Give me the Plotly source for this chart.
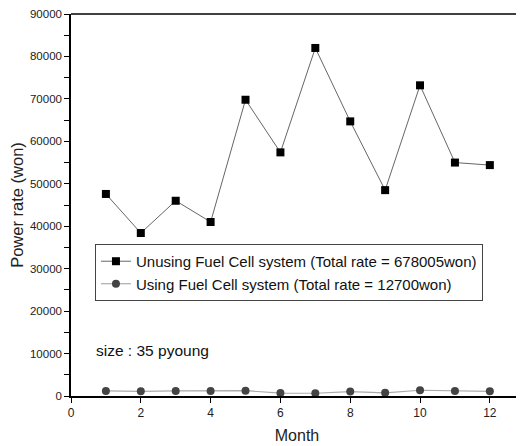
import plotly.graph_objects as go

months = [1, 2, 3, 4, 5, 6, 7, 8, 9, 10, 11, 12]
unusing = [47600, 38400, 46000, 41000, 69800, 57400, 82000, 64700, 48500, 73200, 55000, 54400]
using = [1200, 1100, 1200, 1150, 1250, 700, 650, 1050, 750, 1350, 1200, 1100]
name_unusing = "Unusing Fuel Cell system (Total rate = 678005won)"
name_using = "Using Fuel Cell system (Total rate = 12700won)"

font = "Liberation Sans, Arial, sans-serif"

fig = go.Figure()
fig.add_trace(go.Scatter(
    x=months, y=unusing, name=name_unusing, mode="lines+markers",
    line=dict(color="#666666", width=1),
    marker=dict(symbol="square", size=8, color="black"),
))
fig.add_trace(go.Scatter(
    x=months, y=using, name=name_using, mode="lines+markers",
    line=dict(color="#aaaaaa", width=1.2),
    marker=dict(symbol="circle", size=8, color="#444444"),
))

fig.update_layout(
    width=516, height=438,
    margin=dict(l=63, r=1, t=6, b=50, autoexpand=False),
    paper_bgcolor="white", plot_bgcolor="white",
    font=dict(family=font, size=12, color="#222"),
    showlegend=True,
    legend=dict(
        x=0.053, y=0.398, xanchor="left", yanchor="top",
        bordercolor="#444", borderwidth=1, bgcolor="white",
        font=dict(size=15, color="#111"),
        tracegroupgap=0, itemwidth=30,
    ),
    xaxis=dict(
        range=[0, 12.95], tickmode="array", tickvals=[0, 2, 4, 6, 8, 10, 12],
        ticks="outside", ticklen=5, tickcolor="black",
        showline=True, linecolor="black", linewidth=1.5,
        showgrid=False, zeroline=False, automargin=False,
        title=dict(text="Month", font=dict(size=16), standoff=11),
        tickfont=dict(size=12),
    ),
    yaxis=dict(
        range=[0, 90000], tickmode="linear", dtick=10000, tick0=0, tickformat="d",
        ticks="outside", ticklen=5, tickcolor="black",
        minor=dict(dtick=5000, ticks="outside", ticklen=5, tickcolor="black"),
        showline=True, linecolor="black", linewidth=1.5,
        showgrid=False, zeroline=False, automargin=False,
        title=dict(text="Power rate (won)", font=dict(size=16.5), standoff=6),
        tickfont=dict(size=11.5),
    ),
    shapes=[
        dict(type="line", xref="paper", yref="paper", x0=0, x1=1, y0=1, y1=1,
             line=dict(color="black", width=1.5)),
        dict(type="line", xref="paper", yref="paper", x0=1, x1=1, y0=0, y1=1,
             line=dict(color="#bbbbbb", width=1)),
    ],
    annotations=[
        dict(text="size : 35 pyoung", xref="paper", yref="paper", x=0.05, y=0.12,
             xanchor="left", yanchor="middle", showarrow=False,
             font=dict(size=15.5, color="#111")),
    ],
)

fig.write_html("out.html")
